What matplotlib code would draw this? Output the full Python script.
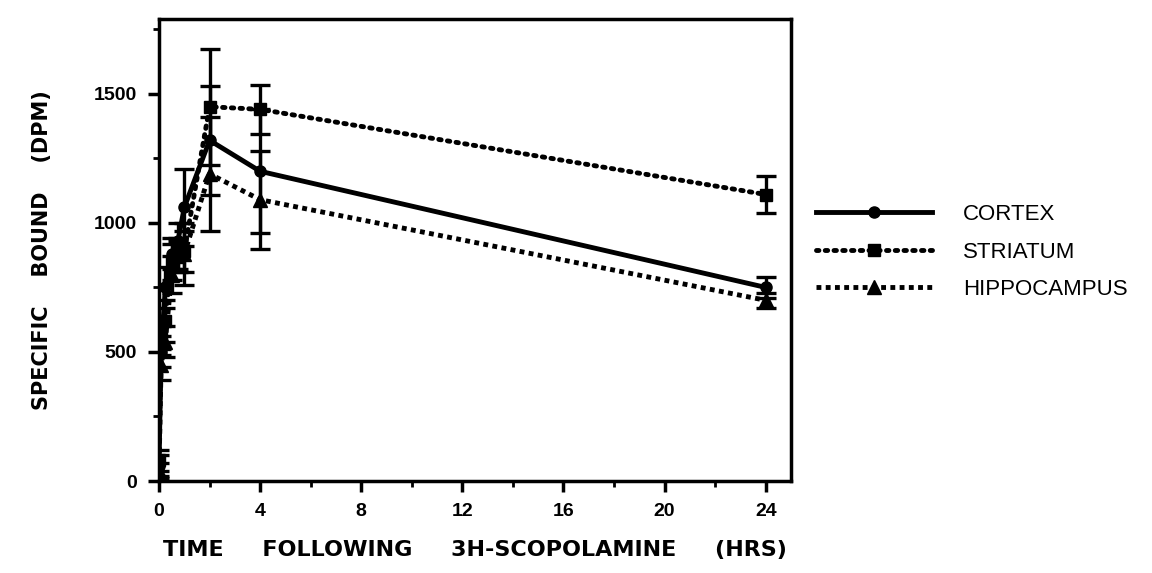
import matplotlib
matplotlib.use("Agg")
import matplotlib.pyplot as plt
from matplotlib.ticker import MultipleLocator
from matplotlib.lines import Line2D

plt.rcParams['font.family'] = ['Liberation Sans', 'DejaVu Sans']

# Data (hours, DPM)
times = [0, 0.083, 0.25, 0.5, 0.75, 1, 2, 4, 24]
cortex = [60, 500, 750, 880, 930, 1060, 1320, 1200, 750]
cortex_err = [40, 60, 80, 60, 70, 150, 210, 240, 40]
striatum = [80, 560, 620, 850, 880, 890, 1450, 1440, 1110]
striatum_err = [40, 70, 80, 70, 60, 80, 225, 95, 70]
hippocampus = [40, 450, 540, 800, 870, 880, 1190, 1090, 700]
hippocampus_err = [30, 60, 60, 70, 60, 120, 220, 190, 30]

labels = ['CORTEX', 'STRIATUM', 'HIPPOCAMPUS']
xticks = [0, 4, 8, 12, 16, 20, 24]
yticks = [0, 500, 1000, 1500]

fig = plt.figure(figsize=(11.52, 5.73), dpi=100)
ax = fig.add_axes([159/1152, (573-481)/573, (791-159)/1152, (481-19)/573])

lw = 3.5
styles = [
    dict(ls='-', marker='o', ms=8),
    dict(ls=(0, (0.5, 1.3)), marker='s', ms=9, dash_capstyle='round'),
    dict(ls=(0, (1.0, 0.9)), marker='^', ms=10),
]
ekw = dict(ecolor='black', elinewidth=2.4, capsize=7, capthick=2.4)
for ys, es, st in zip([cortex, striatum, hippocampus],
                      [cortex_err, striatum_err, hippocampus_err], styles):
    ax.errorbar(times, ys, yerr=es, color='black', lw=lw, **st, **ekw)

ax.set_xlim(0, 25)
ax.set_ylim(0, 1790)
ax.set_xticks(xticks)
ax.set_yticks(yticks)
ax.xaxis.set_minor_locator(MultipleLocator(2))
ax.yaxis.set_minor_locator(MultipleLocator(250))
ax.tick_params(axis='both', which='major', direction='out', length=8, width=2.5,
               labelsize=14, pad=8)
ax.tick_params(axis='both', which='minor', direction='out', length=4, width=2)
for lab in ax.get_xticklabels() + ax.get_yticklabels():
    lab.set_fontweight('bold')
for sp in ax.spines.values():
    sp.set_linewidth(2.5)

ax.set_xlabel('TIME     FOLLOWING     3H-SCOPOLAMINE     (HRS)', fontsize=16,
              fontweight='bold', family=['DejaVu Sans'], labelpad=14)
ax.set_ylabel('SPECIFIC    BOUND    (DPM)', fontsize=15, fontweight='bold',
              family=['DejaVu Sans'], labelpad=30)

handles = [Line2D([], [], color='black', lw=lw, **st) for st in styles]
fig.legend(handles, labels, loc='center left',
           bbox_to_anchor=(796/1152, 1 - 252/573), frameon=False,
           fontsize=16, handlelength=5.2, handletextpad=1.4, labelspacing=0.75)

fig.savefig('out.png', dpi=100)
